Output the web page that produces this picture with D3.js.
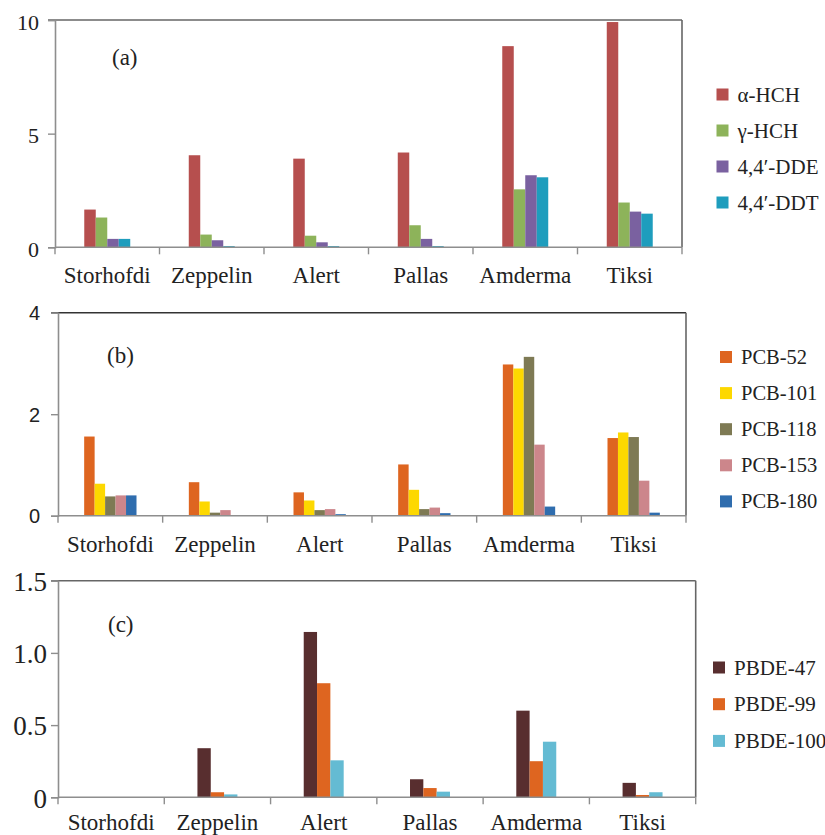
<!DOCTYPE html>
<html>
<head>
<meta charset="utf-8">
<script src="https://cdn.jsdelivr.net/npm/d3@7"></script>
<style>
  html, body { margin: 0; padding: 0; background: #fff; }
  svg { display: block; }
  .serif { font-family: "Liberation Serif", serif; }
</style>
</head>
<body>
<svg id="chart" width="825" height="835" font-family="Liberation Serif"></svg>
<script>
// Monitoring stations (x categories, shared by all three panels)
const stations = ["Storhofdi", "Zeppelin", "Alert", "Pallas", "Amderma", "Tiksi"];

// (a) organochlorine pesticides
const ocNames = ["α-HCH", "γ-HCH", "4,4′-DDE", "4,4′-DDT"];
const ocColors = ["#b64f4e", "#8db35a", "#7a61a0", "#1e9dbd"];
const alphaHCH = [1.66, 4.05, 3.90, 4.17, 8.85, 9.91];
const gammaHCH = [1.31, 0.56, 0.51, 0.97, 2.55, 1.97];
const ppDDE    = [0.37, 0.31, 0.22, 0.37, 3.17, 1.57];
const ppDDT    = [0.37, 0.05, 0.05, 0.05, 3.08, 1.48];
const ocTicks  = [0, 5, 10];

// (b) PCB congeners
const pcbNames = ["PCB-52", "PCB-101", "PCB-118", "PCB-153", "PCB-180"];
const pcbColors = ["#de6520", "#fdd800", "#7e7a54", "#cc868b", "#2f6dae"];
const pcb52  = [1.56, 0.66, 0.46, 1.01, 2.98, 1.53];
const pcb101 = [0.63, 0.28, 0.30, 0.51, 2.90, 1.64];
const pcb118 = [0.38, 0.06, 0.11, 0.13, 3.13, 1.55];
const pcb153 = [0.40, 0.11, 0.13, 0.16, 1.40, 0.69];
const pcb180 = [0.40, 0.00, 0.03, 0.05, 0.18, 0.06];
const pcbTicks = [0, 2, 4];

// (c) PBDE congeners
const pbdeNames = ["PBDE-47", "PBDE-99", "PBDE-100"];
const pbdeColors = ["#582e2f", "#de6520", "#64bbd3"];
const pbde47  = [0.00, 0.34, 1.145, 0.125, 0.60, 0.10];
const pbde99  = [0.00, 0.035, 0.79, 0.064, 0.25, 0.016];
const pbde100 = [0.00, 0.02, 0.256, 0.039, 0.385, 0.035];
const pbdeTicks = [0, 0.5, 1.0, 1.5];

const svg = d3.select("#chart");

function drawPanel(cfg) {
  const g = svg.append("g");
  const x = d3.scaleBand().domain(stations).range([cfg.left, cfg.right]).padding(0);
  const y = d3.scaleLinear().domain([0, cfg.ymax]).range([cfg.bottom, cfg.top]);
  const bw = x.bandwidth();
  const inner = d3.scaleBand()
    .domain(cfg.names)
    .range([bw * cfg.side, bw * (1 - cfg.side)])
    .padding(0);

  // clustered bars, one group per station
  cfg.series.forEach((vals, si) => {
    g.append("g").selectAll("rect")
      .data(vals.map((v, i) => ({ st: stations[i], v })))
      .join("rect")
      .attr("x", d => x(d.st) + inner(cfg.names[si]))
      .attr("width", inner.bandwidth())
      .attr("y", d => y(d.v))
      .attr("height", d => y(0) - y(d.v))
      .attr("fill", cfg.colors[si]);
  });

  // frame: top and right edges
  g.append("line")
    .attr("x1", cfg.left - 7).attr("x2", cfg.right)
    .attr("y1", cfg.top).attr("y2", cfg.top)
    .attr("stroke", cfg.topColor).attr("stroke-width", 1.6);
  g.append("line")
    .attr("x1", cfg.right).attr("x2", cfg.right)
    .attr("y1", cfg.top).attr("y2", cfg.bottom)
    .attr("stroke", "#666").attr("stroke-width", 1.6);

  // y axis
  const yAxis = d3.axisLeft(y)
    .tickValues(cfg.ticks)
    .tickSize(7)
    .tickPadding(cfg.tickPad)
    .tickFormat(cfg.fmt);
  const ya = g.append("g").attr("transform", `translate(${cfg.left},0)`).call(yAxis);
  ya.attr("font-family", cfg.tickFont).attr("font-size", cfg.tickSize);
  ya.select(".domain").attr("stroke", "#8e8e8e").attr("stroke-width", 1.6);
  ya.selectAll(".tick line").attr("stroke", "#8e8e8e").attr("stroke-width", 1.4);
  ya.selectAll(".tick text").attr("fill", "#222").attr("dy", cfg.tickDy);

  // x axis: baseline and ticks on the category boundaries
  g.append("line")
    .attr("x1", cfg.left).attr("x2", cfg.right)
    .attr("y1", y(0)).attr("y2", y(0))
    .attr("stroke", "#8e8e8e").attr("stroke-width", 1.6);
  const bounds = stations.map(s => x(s)).concat([x(stations[stations.length - 1]) + bw]);
  g.append("g").selectAll("line")
    .data(bounds)
    .join("line")
    .attr("x1", d => d).attr("x2", d => d)
    .attr("y1", y(0)).attr("y2", y(0) + 7)
    .attr("stroke", "#8e8e8e").attr("stroke-width", 1.4);

  // station names, centred in each band
  const lab = g.append("g").attr("font-family", "Liberation Serif").attr("font-size", 23);
  stations.forEach(s => {
    lab.append("text")
      .attr("class", "serif")
      .attr("x", x(s) + bw / 2)
      .attr("y", y(0) + cfg.labelOffset)
      .attr("text-anchor", "middle")
      .attr("fill", "#222")
      .text(s);
  });

  // panel tag
  g.append("text")
    .attr("class", "serif")
    .attr("x", cfg.tagX).attr("y", cfg.tagY)
    .attr("fill", "#222")
    .attr("font-family", "Liberation Serif")
    .attr("font-size", 23)
    .text(cfg.tag);

  // legend
  const lg = g.append("g").attr("font-family", "Liberation Serif").attr("font-size", cfg.legFont);
  cfg.names.forEach((n, i) => {
    const cy = cfg.legY + i * cfg.legStep;
    lg.append("rect")
      .attr("x", cfg.legX).attr("y", cy - 6)
      .attr("width", 12).attr("height", 12)
      .attr("fill", cfg.colors[i]);
    lg.append("text")
      .attr("class", "serif")
      .attr("x", cfg.legX + 21).attr("y", cy + 7)
      .attr("fill", "#222")
      .text(n);
  });
}

drawPanel({
  left: 55, right: 682, top: 20, bottom: 247.3, ymax: 10,
  names: ocNames, colors: ocColors,
  series: [alphaHCH, gammaHCH, ppDDE, ppDDT],
  side: 0.28, ticks: ocTicks, fmt: d3.format("d"),
  tickPad: 9, tickDy: "0.42em", tickFont: "Liberation Serif", tickSize: 22,
  topColor: "#666", labelOffset: 36,
  tag: "(a)", tagX: 112, tagY: 65,
  legX: 716.5, legY: 94.5, legStep: 36, legFont: 21
});

drawPanel({
  left: 58, right: 686, top: 312.7, bottom: 515.7, ymax: 4,
  names: pcbNames, colors: pcbColors,
  series: [pcb52, pcb101, pcb118, pcb153, pcb180],
  side: 0.25, ticks: pcbTicks, fmt: d3.format("d"),
  tickPad: 11, tickDy: "0.36em", tickFont: "Liberation Sans", tickSize: 20,
  topColor: "#333", labelOffset: 36,
  tag: "(b)", tagX: 107, tagY: 363,
  legX: 720, legY: 357, legStep: 36.1, legFont: 20.5
});

drawPanel({
  left: 58, right: 695.7, top: 580.7, bottom: 797.3, ymax: 1.5,
  names: pbdeNames, colors: pbdeColors,
  series: [pbde47, pbde99, pbde100],
  side: 0.312, ticks: pbdeTicks, fmt: d => d === 0 ? "0" : d.toFixed(1),
  tickPad: 4, tickDy: "0.36em", tickFont: "Liberation Serif", tickSize: 27,
  topColor: "#666", labelOffset: 33,
  tag: "(c)", tagX: 108, tagY: 632,
  legX: 713, legY: 667.5, legStep: 36.7, legFont: 21
});
</script>
</body>
</html>
